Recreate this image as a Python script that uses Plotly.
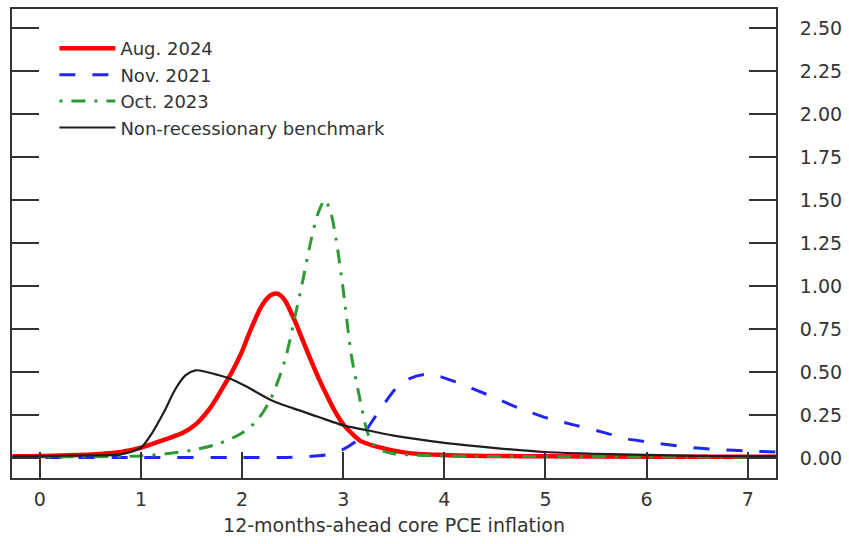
import plotly.graph_objects as go

# Density of 12-months-ahead core PCE inflation under each forecast vintage
aug24_x = [-0.27, 0.0, 0.5, 0.8, 1.0, 1.2, 1.41, 1.55, 1.67, 1.75, 1.83, 1.9, 2.0, 2.06,
           2.19, 2.28, 2.35, 2.42, 2.52, 2.6, 2.68, 2.76, 2.85, 2.93, 3.01, 3.1, 3.17,
           3.34, 3.63, 4.0, 4.5, 5.0, 6.0, 7.28]
aug24_y = [0.010, 0.012, 0.020, 0.035, 0.060, 0.100, 0.145, 0.200, 0.280, 0.350, 0.430,
           0.500, 0.620, 0.710, 0.880, 0.945, 0.955, 0.920, 0.800, 0.685, 0.570, 0.460,
           0.350, 0.260, 0.190, 0.135, 0.100, 0.065, 0.030, 0.018, 0.012, 0.010, 0.008,
           0.008]

nov21_x = [-0.27, 0.0, 1.0, 2.0, 2.5, 2.85, 3.0, 3.17, 3.34, 3.53, 3.65, 3.81, 3.95,
           4.12, 4.42, 4.74, 5.03, 5.3, 5.6, 5.82, 6.0, 6.38, 6.7, 7.04, 7.28]
nov21_y = [0.003, 0.003, 0.003, 0.003, 0.005, 0.020, 0.050, 0.120, 0.260, 0.410, 0.460,
           0.486, 0.475, 0.440, 0.370, 0.290, 0.230, 0.190, 0.145, 0.110, 0.095, 0.065,
           0.050, 0.040, 0.035]

oct23_x = [-0.27, 0.0, 0.5, 1.0, 1.25, 1.5, 1.75, 2.0, 2.15, 2.28, 2.42, 2.53, 2.6, 2.68,
           2.75, 2.82, 2.88, 2.93, 3.0, 3.08, 3.17, 3.24, 3.3, 3.4, 3.5, 4.0, 5.0, 7.28]
oct23_y = [0.005, 0.006, 0.008, 0.012, 0.025, 0.045, 0.080, 0.145, 0.220, 0.340, 0.560,
           0.840, 1.030, 1.260, 1.420, 1.500, 1.420, 1.270, 0.980, 0.600, 0.330, 0.150,
           0.080, 0.040, 0.025, 0.012, 0.008, 0.005]

bench_x = [-0.27, 0.0, 0.5, 0.79, 0.9, 1.0, 1.11, 1.23, 1.34, 1.44, 1.54, 1.65, 1.75,
           1.89, 2.03, 2.29, 2.5, 2.75, 3.0, 3.25, 3.5, 4.02, 4.51, 5.0, 5.5, 6.0, 6.5,
           7.0, 7.28]
bench_y = [0.010, 0.012, 0.015, 0.020, 0.035, 0.060, 0.145, 0.270, 0.400, 0.480, 0.510,
           0.500, 0.485, 0.460, 0.420, 0.336, 0.290, 0.240, 0.190, 0.160, 0.130, 0.087,
           0.058, 0.035, 0.025, 0.018, 0.013, 0.010, 0.010]

series = [
    ("Aug. 2024", aug24_x, aug24_y, "#ff0000", 4.5, "solid"),
    ("Nov. 2021", nov21_x, nov21_y, "#2424f0", 3, "16px,17px"),
    ("Oct. 2023", oct23_x, oct23_y, "#2e9a36", 3, "3px,9px,14px,9px"),
    ("Non-recessionary benchmark", bench_x, bench_y, "#1e1e1e", 2.2, "solid"),
]

x_ticks = [0, 1, 2, 3, 4, 5, 6, 7]
y_ticks = [0.0, 0.25, 0.5, 0.75, 1.0, 1.25, 1.5, 1.75, 2.0, 2.25, 2.5]

FONT = "DejaVu Sans"
INK = "#333333"

fig = go.Figure()
for name, xs, ys, color, width, dash in series:
    fig.add_trace(go.Scatter(
        x=xs, y=ys, name=name, mode="lines",
        line=dict(color=color, width=width, dash=dash, shape="spline", smoothing=0.8),
    ))

fig.update_layout(
    width=849, height=544,
    margin=dict(l=12, r=67, t=7, b=66),
    paper_bgcolor="white", plot_bgcolor="white",
    font=dict(family=FONT, size=19, color=INK),
    showlegend=True,
    legend=dict(
        x=0.0555, y=0.955, xanchor="left", yanchor="top",
        bgcolor="rgba(0,0,0,0)", itemwidth=56,
        font=dict(family=FONT, size=18, color=INK),
        tracegroupgap=0,
    ),
    xaxis=dict(
        range=[-0.275, 7.28], tickvals=x_ticks,
        ticks="inside", ticklen=26, tickwidth=2, tickcolor=INK,
        showline=True, linewidth=2, linecolor=INK, mirror=True,
        showgrid=False, zeroline=False,
        ticklabelstandoff=3,
        title=dict(text="12-months-ahead core PCE inflation", standoff=10,
                   font=dict(family=FONT, size=19, color=INK)),
        tickfont=dict(family=FONT, size=19, color=INK),
    ),
    yaxis=dict(
        range=[-0.116, 2.61], tickvals=y_ticks, tickformat=".2f",
        side="right",
        ticks="inside", ticklen=27, tickwidth=2, tickcolor=INK,
        showline=True, linewidth=2, linecolor=INK, mirror="ticks",
        showgrid=False, zeroline=False,
        ticklabelstandoff=18,
        tickfont=dict(family=FONT, size=19, color=INK),
    ),
)

fig.write_html("out.html")
